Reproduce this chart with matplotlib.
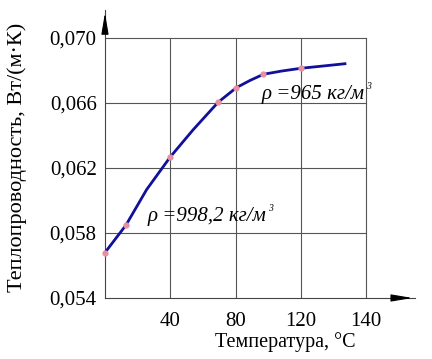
import numpy as np
import matplotlib.pyplot as plt

plt.rcParams['font.family'] = ['Liberation Serif', 'DejaVu Serif']

# values
curve_t = [0, 12.8, 25.5, 40, 54, 69.3, 80.5, 88.8, 97, 108.2, 120, 133.6, 147]
curve_k = [0.05679, 0.05847, 0.06066, 0.06267, 0.06434, 0.06603, 0.06693,
           0.06737, 0.06775, 0.06795, 0.06812, 0.06826, 0.0684]
point_t = [0, 12.8, 40, 69.3, 80.5, 97, 120]
point_k = [0.05679, 0.05847, 0.06267, 0.06603, 0.06693, 0.06775, 0.06812]

x_ticks = [40, 80, 120, 160]
x_labels = ['40', '80', '120', '140']
y_ticks = [0.054, 0.058, 0.062, 0.066, 0.070]
y_labels = ['0,054', '0,058', '0,062', '0,066', '0,070']

fig = plt.figure(figsize=(4.32, 3.59), dpi=100)
ax = fig.add_axes([0.243, 0.170, 0.718, 0.802])
ax.set_xlim(0, 190)
ax.set_ylim(0.054, 0.0717)

# grid box
for x in x_ticks:
    ax.plot([x, x], [0.054, 0.070], color='#555555', lw=0.8, zorder=1)
for y in y_ticks[1:]:
    ax.plot([0, 160], [y, y], color='#555555', lw=0.8, zorder=1)

ax.plot(curve_t, curve_k, color='#10109a', lw=2, zorder=3, clip_on=False)
ax.plot(point_t, point_k, 'o', color='#e890a0', ms=3.5, zorder=4, clip_on=False)

t1 = ax.text(96, 0.06625, 'ρ =965 кг/м', fontsize=15, style='italic')
ax.annotate('3', xy=(1, 1), xycoords=t1, xytext=(1, 2), textcoords='offset points',
            fontsize=7, style='italic', va='top')
t2 = ax.text(26, 0.05875, 'ρ =998,2 кг/м', fontsize=15, style='italic')
ax.annotate('3', xy=(1, 1), xycoords=t2, xytext=(1, 2), textcoords='offset points',
            fontsize=7, style='italic', va='top')

ax.spines['top'].set_visible(False)
ax.spines['right'].set_visible(False)
ax.spines['left'].set_color('#444444')
ax.spines['bottom'].set_color('#444444')
ax.annotate('', xy=(1.0, 0), xytext=(0.93, 0), xycoords='axes fraction',
            arrowprops=dict(arrowstyle='-|>,head_length=1.3,head_width=0.22', color='k', lw=0.8))
ax.annotate('', xy=(0, 1.0), xytext=(0, 0.93), xycoords='axes fraction',
            arrowprops=dict(arrowstyle='-|>,head_length=1.3,head_width=0.22', color='k', lw=0.8))

ax.set_xticks(x_ticks, x_labels, fontsize=15)
ax.set_yticks(y_ticks, y_labels, fontsize=15)
ax.tick_params(axis='x', length=0, pad=10)
ax.tick_params(axis='y', length=0, pad=6)
ax.set_xlabel('Температура, °C', fontsize=14.5)
ax.xaxis.set_label_coords(0.58, -0.12)
ax.set_ylabel('Теплопроводность, Вт/(м·К)', fontsize=16)
ax.yaxis.set_label_coords(-0.25, 0.49)

fig.savefig('out.png', dpi=100)
